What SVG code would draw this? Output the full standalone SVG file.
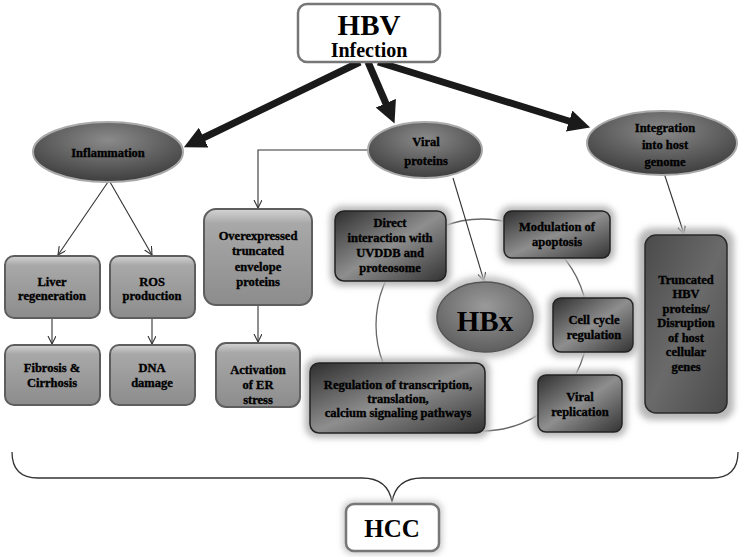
<svg xmlns="http://www.w3.org/2000/svg" width="750" height="557" viewBox="0 0 750 557">
<defs>
  <style>
    text { font-family: 'Liberation Serif', 'Times New Roman', serif; font-weight: bold; text-anchor: middle; fill: #000; }
    .t { font-size: 12.5px; stroke: #000; stroke-width: 0.35px; }
    .thin { stroke: #333; stroke-width: 1.1; fill: none; }
    .thick { stroke: #1a1a1a; stroke-width: 7; fill: none; }
    .light { fill: url(#gLight); stroke: #5e5e5e; stroke-width: 2; }
    .dark { fill: url(#gDark); stroke: #222; stroke-width: 1.5; }
    .glow { fill: #b8b8b8; filter: url(#blur); }
    .ell { fill: url(#gEll); stroke: #aaa; stroke-width: 2; }
    .white { fill: #fff; stroke: #777; stroke-width: 2.5; }
  </style>
  <linearGradient id="gLight" x1="0" y1="0" x2="0" y2="1">
    <stop offset="0" stop-color="#d4d4d4"/>
    <stop offset="0.15" stop-color="#a8a8a8"/>
    <stop offset="1" stop-color="#8c8c8c"/>
  </linearGradient>
  <linearGradient id="gDark" x1="0" y1="0" x2="1" y2="1">
    <stop offset="0" stop-color="#2e2e2e"/>
    <stop offset="0.5" stop-color="#8e8e8e"/>
    <stop offset="1" stop-color="#333"/>
  </linearGradient>
  <linearGradient id="gTrunc" x1="0" y1="0" x2="1" y2="1">
    <stop offset="0" stop-color="#4a4a4a"/>
    <stop offset="0.5" stop-color="#6a6a6a"/>
    <stop offset="1" stop-color="#4a4a4a"/>
  </linearGradient>
  <radialGradient id="gEll" cx="0.5" cy="0.3" r="0.7">
    <stop offset="0" stop-color="#8a8a8a"/>
    <stop offset="1" stop-color="#3e3e3e"/>
  </radialGradient>
  <radialGradient id="gHBx" cx="0.5" cy="0.35" r="0.7">
    <stop offset="0" stop-color="#9a9a9a"/>
    <stop offset="1" stop-color="#5a5a5a"/>
  </radialGradient>
  <filter id="blur" x="-20%" y="-20%" width="140%" height="140%">
    <feGaussianBlur stdDeviation="3"/>
  </filter>
  <marker id="big" markerUnits="userSpaceOnUse" markerWidth="24" markerHeight="24" refX="3" refY="11" orient="auto">
    <path d="M0,0 L22,11 L0,22 z" fill="#1a1a1a"/>
  </marker>
  <marker id="small" markerUnits="userSpaceOnUse" markerWidth="10" markerHeight="10" refX="8" refY="4" orient="auto">
    <path d="M0,0 L8,4 L0,8" fill="none" stroke="#333" stroke-width="1.1"/>
  </marker>
</defs>

<g id="connectors">
  <circle cx="482" cy="325" r="106" fill="none" stroke="#666" stroke-width="1.3"/>
  <line class="thick" x1="360" y1="62" x2="201" y2="139" marker-end="url(#big)"/>
  <line class="thick" x1="368" y1="62" x2="387" y2="106" marker-end="url(#big)"/>
  <line class="thick" x1="378" y1="62" x2="572" y2="122" marker-end="url(#big)"/>
  <line class="thin" x1="108" y1="182" x2="58" y2="255" marker-end="url(#small)"/>
  <line class="thin" x1="110" y1="182" x2="152" y2="255" marker-end="url(#small)"/>
  <line class="thin" x1="52" y1="318" x2="52" y2="344" marker-end="url(#small)"/>
  <line class="thin" x1="152" y1="318" x2="152" y2="344" marker-end="url(#small)"/>
  <polyline class="thin" points="370,150 258,150 258,208" marker-end="url(#small)"/>
  <line class="thin" x1="258" y1="305" x2="258" y2="342" marker-end="url(#small)"/>
  <line class="thin" x1="453" y1="178" x2="484" y2="281" marker-end="url(#small)"/>
  <line class="thin" x1="664" y1="173" x2="684" y2="234" marker-end="url(#small)"/>
  <path d="M12,452 Q12,478 38,478 L362,478 Q388,478 392,502 Q396,478 422,478 L712,478 Q738,478 738,452" fill="none" stroke="#333" stroke-width="1.3"/>
</g>

<g id="hbv">
  <rect class="white" x="298" y="4" width="142" height="58" rx="9"/>
  <text x="369" y="35" font-size="29">HBV</text>
  <text x="369" y="57" font-size="20">Infection</text>
</g>

<g id="inflammation">
  <ellipse class="ell" cx="108" cy="152" rx="75" ry="30"/>
  <text class="t" x="108" y="157" font-size="13">Inflammation</text>
</g>

<g id="viral-proteins">
  <ellipse class="ell" cx="425" cy="150" rx="57" ry="28"/>
  <text class="t" x="426" y="146" font-size="13">Viral</text>
  <text class="t" x="426" y="165" font-size="13">proteins</text>
</g>

<g id="integration">
  <ellipse class="ell" cx="662" cy="143" rx="75" ry="32"/>
  <text class="t" x="665" y="132" font-size="13">Integration</text>
  <text class="t" x="665" y="149" font-size="13">into host</text>
  <text class="t" x="665" y="166" font-size="13">genome</text>
</g>

<g id="liver-regeneration">
  <rect class="light" x="5" y="256" width="95" height="62" rx="9"/>
  <text class="t" x="52" y="286">Liver</text>
  <text class="t" x="52" y="300">regeneration</text>
</g>

<g id="ros-production">
  <rect class="light" x="110" y="256" width="85" height="62" rx="9"/>
  <text class="t" x="152" y="286">ROS</text>
  <text class="t" x="152" y="300">production</text>
</g>

<g id="fibrosis">
  <rect class="light" x="5" y="345" width="95" height="60" rx="9"/>
  <text class="t" x="52" y="372">Fibrosis &amp;</text>
  <text class="t" x="52" y="387">Cirrhosis</text>
</g>

<g id="dna-damage">
  <rect class="light" x="110" y="345" width="85" height="60" rx="9"/>
  <text class="t" x="152" y="372">DNA</text>
  <text class="t" x="152" y="387">damage</text>
</g>

<g id="overexpressed">
  <rect class="light" x="204" y="209" width="108" height="96" rx="12"/>
  <text class="t" x="258" y="240">Overexpressed</text>
  <text class="t" x="258" y="255">truncated</text>
  <text class="t" x="258" y="271">envelope</text>
  <text class="t" x="258" y="286">proteins</text>
</g>

<g id="er-stress">
  <rect class="light" x="216" y="343" width="84" height="64" rx="10"/>
  <text class="t" x="258" y="374">Activation</text>
  <text class="t" x="258" y="389">of ER</text>
  <text class="t" x="258" y="404">stress</text>
</g>

<g id="direct-interaction">
  <rect class="glow" x="330" y="206" width="121" height="80" rx="12"/>
  <rect class="dark" x="335" y="211" width="111" height="70" rx="9"/>
  <text class="t" x="390" y="227">Direct</text>
  <text class="t" x="390" y="242">interaction with</text>
  <text class="t" x="390" y="257">UVDDB and</text>
  <text class="t" x="390" y="272">proteosome</text>
</g>

<g id="modulation-apoptosis">
  <rect class="glow" x="499" y="206" width="116" height="57" rx="12"/>
  <rect class="dark" x="504" y="211" width="106" height="47" rx="8"/>
  <text class="t" x="557" y="231">Modulation of</text>
  <text class="t" x="557" y="246">apoptosis</text>
</g>

<g id="hbx">
  <ellipse cx="485" cy="317" rx="54" ry="41" fill="#c4c4c4" filter="url(#blur)"/>
  <ellipse cx="485" cy="317" rx="48" ry="35" fill="url(#gHBx)" stroke="#555" stroke-width="1.5"/>
  <text x="485" y="331" font-size="29">HBx</text>
</g>

<g id="cell-cycle">
  <rect class="glow" x="548" y="293" width="90" height="64" rx="12"/>
  <rect class="dark" x="553" y="298" width="80" height="54" rx="8"/>
  <text class="t" x="594" y="324">Cell cycle</text>
  <text class="t" x="594" y="339">regulation</text>
</g>

<g id="regulation-transcription">
  <rect class="glow" x="305" y="358" width="185" height="80" rx="12"/>
  <rect class="dark" x="310" y="363" width="175" height="70" rx="9"/>
  <text class="t" x="398" y="389">Regulation of transcription,</text>
  <text class="t" x="398" y="403">translation,</text>
  <text class="t" x="398" y="417">calcium signaling pathways</text>
</g>

<g id="viral-replication">
  <rect class="glow" x="533" y="370" width="94" height="67" rx="12"/>
  <rect class="dark" x="538" y="375" width="84" height="57" rx="8"/>
  <text class="t" x="580" y="401">Viral</text>
  <text class="t" x="580" y="416">replication</text>
</g>

<g id="truncated-hbv">
  <rect class="glow" x="638" y="228" width="96" height="192" rx="14"/>
  <rect x="645" y="235" width="82" height="178" rx="11" fill="url(#gTrunc)" stroke="#2a2a2a" stroke-width="1.5"/>
  <text class="t" x="686" y="284">Truncated</text>
  <text class="t" x="686" y="298">HBV</text>
  <text class="t" x="686" y="313">proteins/</text>
  <text class="t" x="686" y="327">Disruption</text>
  <text class="t" x="686" y="342">of host</text>
  <text class="t" x="686" y="356">cellular</text>
  <text class="t" x="686" y="371">genes</text>
</g>

<g id="hcc">
  <rect x="343" y="501" width="99" height="53" rx="9" fill="#c8c8c8" filter="url(#blur)"/>
  <rect class="white" x="346" y="504" width="93" height="47" rx="8" stroke="#444" stroke-width="2"/>
  <text x="392" y="537" font-size="25">HCC</text>
</g>
</svg>
